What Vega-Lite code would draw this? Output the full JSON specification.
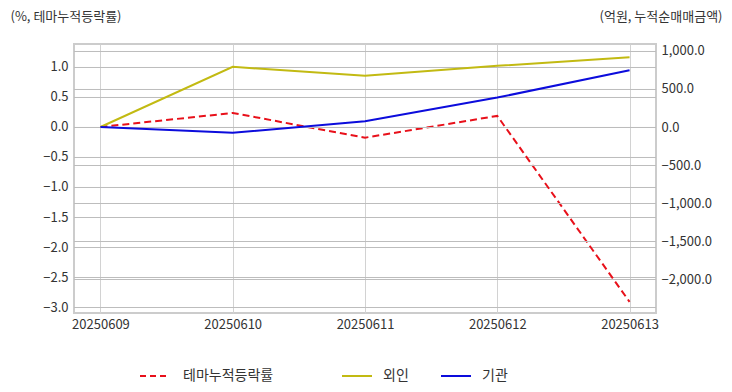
{
  "$schema": "https://vega.github.io/schema/vega-lite/v6.json",
  "width": 582,
  "height": 269,
  "autosize": {"type": "none"},
  "padding": {"left": 74, "top": 44, "right": 76, "bottom": 79},
  "background": "white",
  "config": {
    "font": "Noto Sans CJK KR",
    "view": {"stroke": "#cccccc", "strokeWidth": 2},
    "axis": {"labelFont": "Noto Sans CJK KR", "titleFont": "Noto Sans CJK KR", "labelColor": "#333333", "titleColor": "#333333", "gridColor": "#d2d2d2", "gridWidth": 1, "domain": false, "ticks": false, "labelFontSize": 13},
    "legend": {"labelFont": "Noto Sans CJK KR", "labelFontSize": 14, "labelColor": "#333333"}
  },
  "datasets": {
    "series": [
      {"date": "20250609", "series": "테마누적등락률", "value": 0.0},
      {"date": "20250610", "series": "테마누적등락률", "value": 0.234},
      {"date": "20250611", "series": "테마누적등락률", "value": -0.178},
      {"date": "20250612", "series": "테마누적등락률", "value": 0.185},
      {"date": "20250613", "series": "테마누적등락률", "value": -2.914},
      {"date": "20250609", "series": "외인", "value": 0},
      {"date": "20250610", "series": "외인", "value": 792},
      {"date": "20250611", "series": "외인", "value": 673},
      {"date": "20250612", "series": "외인", "value": 805},
      {"date": "20250613", "series": "외인", "value": 917},
      {"date": "20250609", "series": "기관", "value": 0},
      {"date": "20250610", "series": "기관", "value": -77},
      {"date": "20250611", "series": "기관", "value": 77},
      {"date": "20250612", "series": "기관", "value": 387},
      {"date": "20250613", "series": "기관", "value": 748}
    ],
    "leftGrid": [
      {"value": -3}, {"value": -2.5}, {"value": -2}, {"value": -1.5}, {"value": -1},
      {"value": -0.5}, {"value": 0}, {"value": 0.5}, {"value": 1}
    ],
    "rightGrid": [
      {"value": -2000}, {"value": -1500}, {"value": -1000}, {"value": -500},
      {"value": 0}, {"value": 500}, {"value": 1000}
    ]
  },
  "layer": [
    {
      "layer": [
        {
          "data": {"name": "leftGrid"},
          "mark": {"type": "rule", "color": "#bdbdbd", "strokeWidth": 1, "yOffset": 0.5},
          "encoding": {
            "y": {
              "field": "value", "type": "quantitative",
              "scale": {"domain": [-3.1, 1.383333], "nice": false, "zero": false},
              "axis": {"orient": "left", "grid": false, "values": [-3, -2.5, -2, -1.5, -1, -0.5, 0, 0.5, 1], "format": ".1f", "labelPadding": 6, "title": "(%, 테마누적등락률)", "titleAngle": 0, "titleAlign": "left", "titleBaseline": "middle", "titleX": -64, "titleY": -28, "titleFontSize": 13, "titleFontWeight": "normal"}
            }
          }
        },
        {
          "data": {"name": "series"},
          "transform": [{"filter": "datum.series === '테마누적등락률'"}],
          "mark": {"type": "line", "strokeWidth": 2, "strokeDash": [7, 4]},
          "encoding": {
            "x": {
              "field": "date", "type": "ordinal", "sort": null,
              "scale": {"type": "point", "padding": 0.2},
              "axis": {"title": null, "labelAngle": 0, "labelPadding": 5, "grid": true}
            },
            "y": {
              "field": "value", "type": "quantitative",
              "scale": {"domain": [-3.1, 1.383333], "nice": false, "zero": false},
              "axis": {"orient": "left", "grid": false, "values": [-3, -2.5, -2, -1.5, -1, -0.5, 0, 0.5, 1], "format": ".1f", "labelPadding": 6, "title": "(%, 테마누적등락률)", "titleAngle": 0, "titleAlign": "left", "titleBaseline": "middle", "titleX": -64, "titleY": -28, "titleFontSize": 13, "titleFontWeight": "normal"}
            },
            "color": {
              "field": "series", "type": "nominal",
              "scale": {"domain": ["테마누적등락률"], "range": ["#e8101a"]},
              "legend": {"title": null, "orient": "none", "legendX": 65, "legendY": 316, "direction": "horizontal", "symbolType": "stroke", "symbolSize": 900, "symbolStrokeWidth": 2, "symbolDash": [6, 4], "labelOffset": 12}
            }
          }
        }
      ]
    },
    {
      "layer": [
        {
          "data": {"name": "rightGrid"},
          "mark": {"type": "rule", "color": "#bdbdbd", "strokeWidth": 1, "yOffset": 0.5},
          "encoding": {
            "y": {
              "field": "value", "type": "quantitative",
              "scale": {"domain": [-2447.368, 1092.105], "nice": false, "zero": false},
              "axis": {"orient": "right", "grid": false, "values": [-2000, -1500, -1000, -500, 0, 500, 1000], "format": ",.1f", "labelPadding": 5, "title": "(억원, 누적순매매금액)", "titleAngle": 0, "titleAlign": "right", "titleBaseline": "middle", "titleX": 66, "titleY": -28, "titleFontSize": 13, "titleFontWeight": "normal"}
            }
          }
        },
        {
          "data": {"name": "series"},
          "transform": [{"filter": "datum.series !== '테마누적등락률'"}],
          "mark": {"type": "line", "strokeWidth": 2},
          "encoding": {
            "x": {
              "field": "date", "type": "ordinal", "sort": null,
              "scale": {"type": "point", "padding": 0.2},
              "axis": {"title": null, "labelAngle": 0, "labelPadding": 5, "grid": true}
            },
            "y": {
              "field": "value", "type": "quantitative",
              "scale": {"domain": [-2447.368, 1092.105], "nice": false, "zero": false},
              "axis": {"orient": "right", "grid": false, "values": [-2000, -1500, -1000, -500, 0, 500, 1000], "format": ",.1f", "labelPadding": 5, "title": "(억원, 누적순매매금액)", "titleAngle": 0, "titleAlign": "right", "titleBaseline": "middle", "titleX": 66, "titleY": -28, "titleFontSize": 13, "titleFontWeight": "normal"}
            },
            "color": {
              "field": "series", "type": "nominal",
              "scale": {"domain": ["외인", "기관"], "range": ["#c2ba12", "#0c0cdc"]},
              "legend": {"title": null, "orient": "none", "legendX": 267, "legendY": 316, "direction": "horizontal", "symbolType": "stroke", "symbolSize": 900, "symbolStrokeWidth": 2, "labelOffset": 10, "columnPadding": 28}
            }
          }
        }
      ]
    }
  ],
  "resolve": {"scale": {"y": "independent", "color": "independent"}}
}
